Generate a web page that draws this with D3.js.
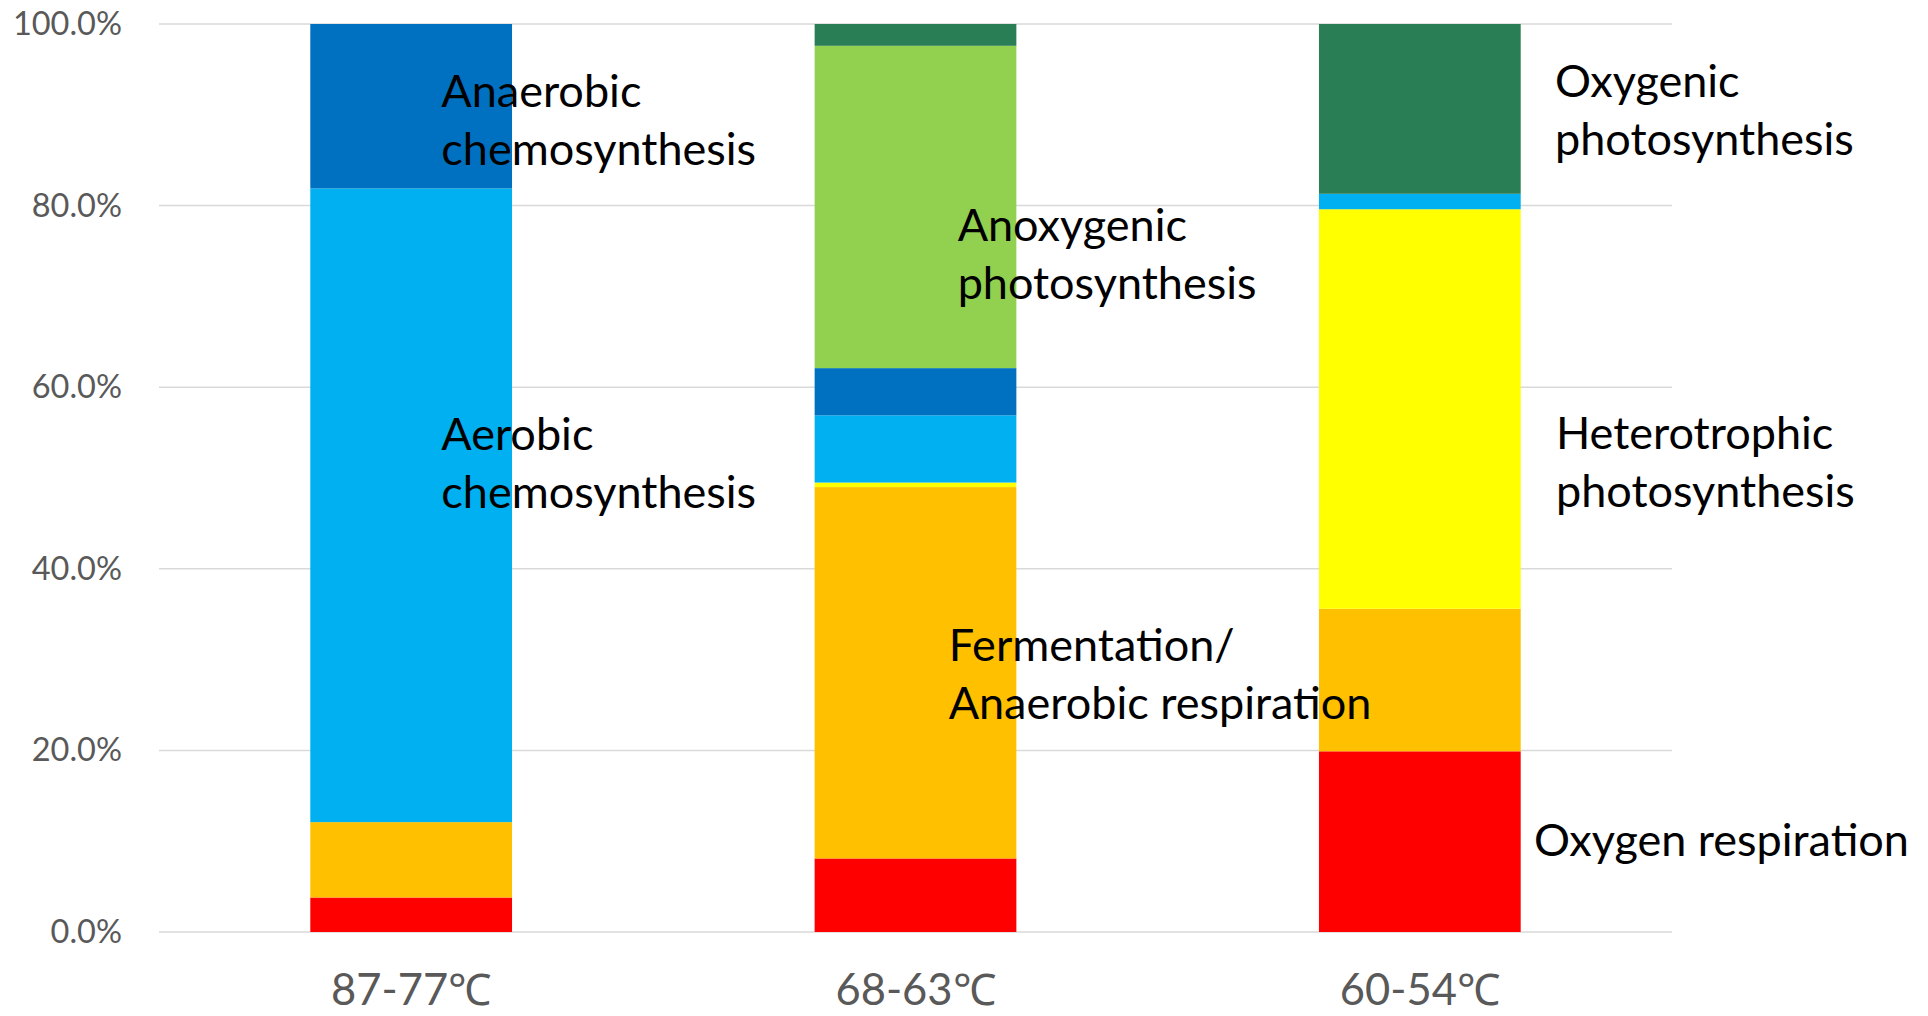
<!DOCTYPE html>
<html>
<head>
<meta charset="utf-8">
<script src="https://cdn.jsdelivr.net/npm/d3@7"></script>
<style>
  html, body { margin: 0; padding: 0; background: #ffffff; }
  svg { display: block; }
</style>
</head>
<body>
<svg id="chart" width="1928" height="1016"></svg>
<script>
// Temperature zones along the hot-spring outflow
const categories = ["87-77℃", "68-63℃", "60-54℃"];

// Share of each metabolic mode (% of total), per temperature zone
const oxygenRespiration      = [3.8, 8.1, 19.9];
const fermentation           = [8.3, 40.9, 15.7];
const heterotrophicPhoto     = [0.0, 0.5, 44.0];
const aerobicChemosynthesis  = [69.8, 7.4, 1.7];
const anaerobicChemosynthesis= [18.1, 5.2, 0.0];
const anoxygenicPhoto        = [0.0, 35.5, 0.0];
const oxygenicPhoto          = [0.0, 2.4, 18.7];

// Stack order, bottom to top
const seriesKeys = ["oxyResp", "ferm", "hetero", "aeroChemo", "anaeroChemo", "anoxPhoto", "oxyPhoto"];
const seriesValues = [oxygenRespiration, fermentation, heterotrophicPhoto,
  aerobicChemosynthesis, anaerobicChemosynthesis, anoxygenicPhoto, oxygenicPhoto];
const seriesColors = ["#FF0000", "#FFC000", "#FFFF00", "#00B0F0", "#0070C0", "#92D050", "#2A7E55"];

const yTicks = [0, 20, 40, 60, 80, 100];

// Callout text: lines, zone it sits next to, baseline level (%) of first line
const calloutLines = [
  ["Anaerobic", "chemosynthesis"],
  ["Aerobic", "chemosynthesis"],
  ["Anoxygenic", "photosynthesis"],
  ["Fermentation/", "Anaerobic respiration"],
  ["Oxygenic", "photosynthesis"],
  ["Heterotrophic", "photosynthesis"],
  ["Oxygen respiration"]
];
const calloutZone  = [0, 0, 1, 1, 2, 2, 2];
const calloutLevel = [90.9, 53.1, 76.1, 29.8, 92.0, 53.2, 8.4];
const calloutShift = [131, 131, 143, 134, 236, 237, 215];

const FONT = "Lato, 'Open Sans', sans-serif";
const plot = { left: 159, right: 1672, top: 24, bottom: 932 };

const svg = d3.select("#chart");

const table = categories.map((c, i) => {
  const row = { cat: c };
  seriesKeys.forEach((k, s) => { row[k] = seriesValues[s][i]; });
  return row;
});

const x = d3.scaleBand()
  .domain(categories)
  .range([plot.left, plot.right])
  .paddingInner(0.6)
  .paddingOuter(0.3);

const y = d3.scaleLinear()
  .domain([0, 100])
  .range([plot.bottom, plot.top]);

const color = d3.scaleOrdinal().domain(seriesKeys).range(seriesColors);

// Horizontal gridlines
svg.append("g")
  .selectAll("line")
  .data(yTicks)
  .join("line")
  .attr("x1", plot.left)
  .attr("x2", plot.right)
  .attr("y1", d => y(d))
  .attr("y2", d => y(d))
  .attr("stroke", "#D9D9D9")
  .attr("stroke-width", 1.5);

// Stacked bars
const stacked = d3.stack().keys(seriesKeys)(table);
svg.append("g")
  .selectAll("g")
  .data(stacked)
  .join("g")
  .attr("fill", d => color(d.key))
  .selectAll("rect")
  .data(d => d)
  .join("rect")
  .attr("x", d => x(d.data.cat))
  .attr("width", x.bandwidth())
  .attr("y", d => y(d[1]))
  .attr("height", d => y(d[0]) - y(d[1]));

// Y axis labels
const yAxis = svg.append("g")
  .attr("transform", `translate(${plot.left},0)`)
  .call(d3.axisLeft(y).tickValues(yTicks).tickFormat(d => d.toFixed(1) + "%").tickSize(0).tickPadding(37));
yAxis.select(".domain").remove();
yAxis.selectAll("text")
  .attr("fill", "#595959")
  .style("font-family", FONT)
  .style("font-size", "32.5px");

// X axis labels
const xAxis = svg.append("g")
  .attr("transform", `translate(0,${plot.bottom})`)
  .call(d3.axisBottom(x).tickSize(0).tickPadding(42));
xAxis.select(".domain").remove();
xAxis.selectAll("text")
  .attr("fill", "#595959")
  .style("font-family", FONT)
  .style("font-size", "43.5px");

// Callouts naming each metabolic mode
const lineGap = 58;
const callouts = svg.append("g")
  .style("font-family", FONT)
  .style("font-size", "45px")
  .attr("fill", "#000000");
calloutLines.forEach((lines, i) => {
  const cx = x(categories[calloutZone[i]]) + calloutShift[i];
  const t = callouts.append("text")
    .attr("x", cx)
    .attr("y", y(calloutLevel[i]));
  lines.forEach((ln, j) => {
    t.append("tspan")
      .attr("x", cx)
      .attr("dy", j === 0 ? 0 : lineGap)
      .text(ln);
  });
});
</script>
</body>
</html>
